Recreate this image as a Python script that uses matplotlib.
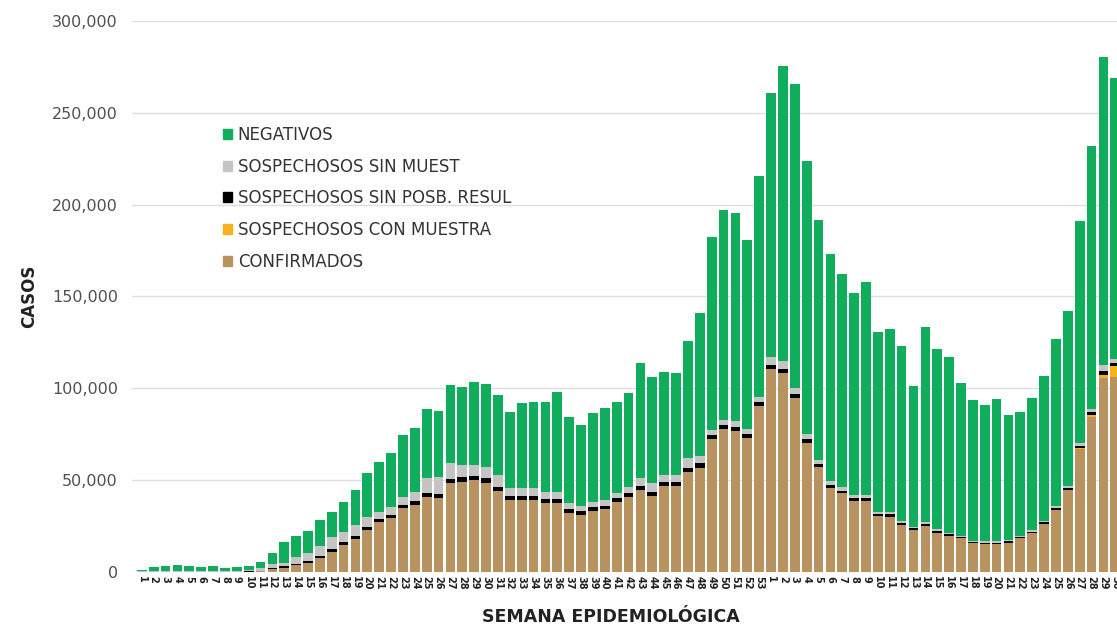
import numpy as np
import matplotlib
matplotlib.use('Agg')
import matplotlib.pyplot as plt
from matplotlib.patches import Patch
from matplotlib.ticker import FuncFormatter

# semanas 2020 (1-53) y 2021 (1-30)
semanas = [str(i) for i in range(1, 54)] + [str(i) for i in range(1, 31)]

confirmados = [
    0, 0, 100, 100, 100, 100, 100, 100, 100, 200,
    500, 1500, 2300, 3700, 5000, 7500, 11000, 14700, 18000, 22900,
    27000, 29200, 34700, 36500, 41000, 40500, 48300, 49200, 50000, 48600,
    44000, 39000, 39300, 39300, 37700, 37700, 32300, 31200, 33200, 34100,
    38100, 40800, 44500, 41400, 46800, 46800, 54400, 56800, 72400, 77900,
    77000, 73100, 90400, 110400, 108200, 94900, 70400, 57300, 45900, 42800,
    38700, 38700, 30500, 30100, 25600, 22900, 25200, 21400, 19600, 18300,
    15600, 15200, 15200, 16000, 18300, 21000, 26100, 33800, 44600, 66800,
    84200, 105500, 106000,
]
con_muestra = [0] * 79 + [500, 1000, 2000, 6000]
sin_posib = [
    0, 100, 100, 100, 100, 100, 100, 100, 100, 100,
    300, 700, 700, 800, 900, 1000, 1500, 1500, 1500, 1800,
    1800, 1800, 2000, 2000, 2200, 2200, 2500, 2500, 2500, 2500,
    2300, 2200, 2200, 2200, 2200, 2200, 2000, 2000, 2000, 2000,
    2000, 2000, 2200, 2200, 2200, 2200, 2300, 2300, 2000, 2000,
    2000, 2000, 2000, 2500, 2500, 2000, 2000, 1500, 1500, 1500,
    1500, 1500, 1200, 1200, 1000, 1000, 1000, 1000, 1000, 800,
    800, 800, 800, 800, 800, 900, 1000, 1000, 1200, 1500,
    1800, 2000, 2000,
]
sin_muestra = [
    300, 500, 600, 600, 600, 500, 500, 400, 500, 600,
    1400, 2200, 1700, 3800, 4300, 5500, 6500, 5800, 6100, 5300,
    4000, 4600, 4300, 5200, 7800, 9200, 8400, 6600, 5800, 6200,
    6500, 4300, 4000, 4000, 3700, 3800, 3100, 2800, 2800, 3100,
    3100, 3600, 4300, 4700, 3800, 3800, 5200, 3900, 3000, 3000,
    3000, 3000, 3000, 4000, 4000, 3000, 2500, 2000, 2000, 2000,
    1500, 1500, 1200, 1200, 1000, 800, 800, 800, 800, 700,
    700, 700, 700, 700, 700, 800, 900, 1000, 1200, 1500,
    1800, 3000, 2000,
]
negativos = [
    700, 1900, 2700, 2800, 2600, 2100, 2300, 1800, 2200, 2300,
    3400, 5800, 11800, 11500, 12100, 14300, 13800, 16000, 19000, 23700,
    26900, 29000, 33600, 34500, 37600, 35800, 42600, 42600, 45300, 45100,
    43600, 41800, 46300, 47200, 49100, 54500, 46800, 44000, 48800, 49900,
    49500, 50900, 62600, 58100, 56200, 55700, 64100, 78000, 105200, 114100,
    113700, 102700, 120200, 143700, 160800, 165800, 149100, 130900, 123600, 116000,
    110000, 116300, 97800, 99700, 95400, 76600, 106300, 98100, 95900, 82900,
    76600, 74200, 77300, 68000, 67500, 72200, 78900, 90900, 95300, 120700,
    142900, 167700, 153000,
]

c_conf = '#b8925f'
c_con = '#f7b21b'
c_posib = '#000000'
c_sinm = '#c4c4c4'
c_neg = '#10ad5c'

fig = plt.figure(figsize=(11.17, 6.26), dpi=100)
ax = fig.add_axes([0.118, 0.0863, 1 - 0.118, 0.8802])

x = np.arange(1, len(semanas) + 1)
w = 0.82
conf = np.array(confirmados)
con = np.array(con_muestra)
posib = np.array(sin_posib)
sinm = np.array(sin_muestra)
neg = np.array(negativos)

ax.bar(x, conf, w, color=c_conf, zorder=2)
ax.bar(x, con, w, bottom=conf, color=c_con, zorder=2)
ax.bar(x, posib, w, bottom=conf + con, color=c_posib, zorder=2)
ax.bar(x, sinm, w, bottom=conf + con + posib, color=c_sinm, zorder=2)
ax.bar(x, neg, w, bottom=conf + con + posib + sinm, color=c_neg, zorder=2)

ax.set_xlim(0.16, 83.14)
ax.set_ylim(0, 300000)
ax.set_yticks(np.arange(0, 300001, 50000))
ax.yaxis.set_major_formatter(FuncFormatter(lambda v, p: f'{int(v):,}'))
ax.grid(axis='y', color='#dedede', linewidth=1, zorder=0)
ax.set_axisbelow(True)
for s in ax.spines.values():
    s.set_visible(False)
ax.tick_params(axis='y', length=0, labelsize=11.5, labelcolor='#505050', pad=10)
ax.set_xticks(x)
ax.set_xticklabels(semanas, rotation=270, fontsize=7, fontweight='bold', color='#222222')
ax.tick_params(axis='x', length=0, pad=3)

ax.set_ylabel('CASOS', fontsize=12, fontweight='bold', color='#222222', labelpad=10)
fig.text(0.547, 0.0, 'SEMANA EPIDEMIOLÓGICA', ha='center', va='bottom',
         fontsize=12.5, fontweight='bold', color='#222222')

handles = [
    Patch(color=c_neg, label='NEGATIVOS'),
    Patch(color=c_sinm, label='SOSPECHOSOS SIN MUEST'),
    Patch(color=c_posib, label='SOSPECHOSOS SIN POSB. RESUL'),
    Patch(color=c_con, label='SOSPECHOSOS CON MUESTRA'),
    Patch(color=c_conf, label='CONFIRMADOS'),
]
leg = ax.legend(handles=handles, loc='upper left', bbox_to_anchor=(0.192, 0.812),
                bbox_transform=fig.transFigure, frameon=False, fontsize=12,
                handlelength=0.55, handleheight=0.55, handletextpad=0.35,
                labelspacing=0.82, borderpad=0)
for t in leg.get_texts():
    t.set_color('#333333')

fig.savefig('out.png', dpi=100)
